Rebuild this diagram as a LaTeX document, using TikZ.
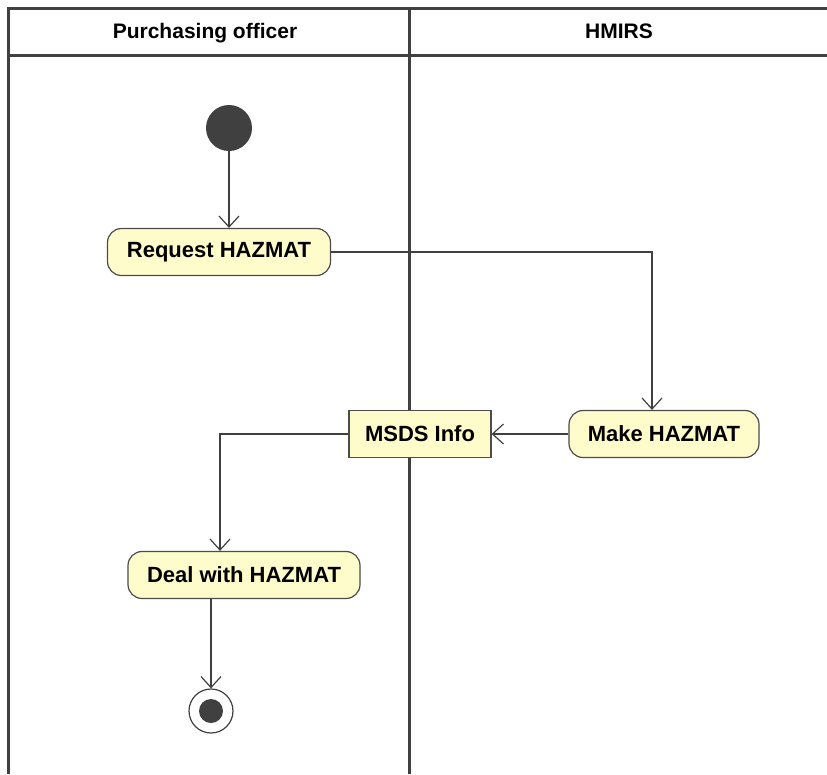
\documentclass[tikz,border=0pt]{standalone}
\usepackage{fontspec}
\setmainfont{Liberation Sans}
\usetikzlibrary{arrows.meta,positioning}

\begin{document}
\begin{tikzpicture}[x=1pt,y=-1pt,
  lane/.style={draw=black!75,line width=3pt},
  head/.style={anchor=base,font=\fontsize{21}{25}\selectfont\bfseries},
  action/.style={draw=black!70,line width=1.2pt,fill=yellow!20,rounded corners=14pt,
    minimum height=47pt,inner xsep=10pt,font=\fontsize{22}{26}\selectfont\bfseries},
  object/.style={draw=black!70,line width=1.2pt,fill=yellow!20,
    minimum height=47pt,inner xsep=10pt,font=\fontsize{22}{26}\selectfont\bfseries},
  flow/.style={draw=black!75,line width=1.2pt,-{Straight Barb[length=11pt,width=20pt]}}]
  \useasboundingbox (0,0) rectangle (827,774);

  % Swimlanes
  \draw[lane] (8,774) -- (8,8) -- (827,8);
  \draw[lane] (8,55) -- (827,55);
  \draw[lane] (409,8) -- (409,774);
  \node[head] (po) at (205,38) {Purchasing officer};
  \node[head] (hm) at (619,38) {HMIRS};

  % Activities
  \node[circle,fill=black!75,minimum size=46pt,inner sep=0pt] (start) at (229,128) {};
  \node[action,minimum width=223pt] (req) at (219,252) {Request HAZMAT};
  \node[action,minimum width=190pt] (make) at (664,434) {Make HAZMAT};
  \node[object,minimum width=142pt] (msds) at (420,434) {MSDS Info};
  \node[action,minimum width=232pt] (deal) at (244,575) {Deal with HAZMAT};
  \node[circle,draw=black!75,line width=1.2pt,minimum size=44pt,inner sep=0pt] (end) at (211,711) {};
  \fill[black!75] (end) circle (12);

  % Flows
  \coordinate (turn) at (652,252);
  \coordinate (bend) at (220,434);
  \draw[flow] (start) -- (start |- req.north);
  \draw[flow] (req.east) -- (turn) -- (turn |- make.north);
  \draw[flow] (make) -- (msds);
  \draw[flow] (msds.west) -- (bend) -- (bend |- deal.north);
  \draw[flow] (end |- deal.south) -- (end);
\end{tikzpicture}
\end{document}
